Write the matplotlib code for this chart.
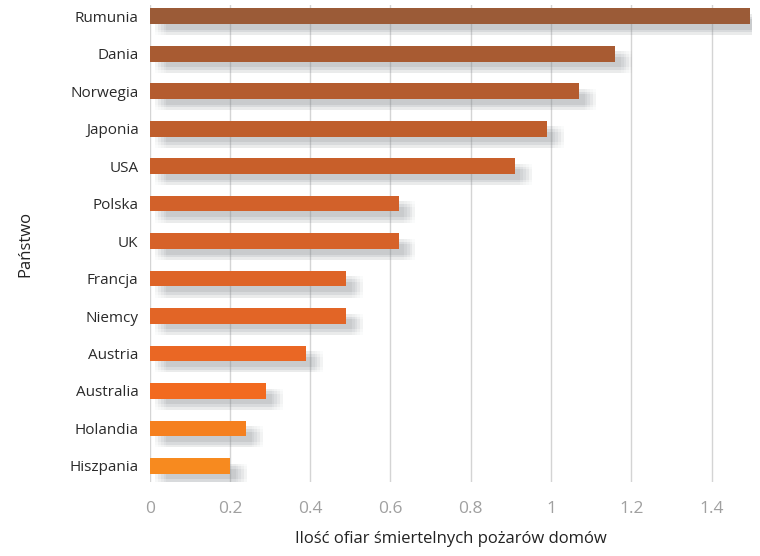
import matplotlib.pyplot as plt
import matplotlib.patheffects as pe

plt.ioff()

countries = ['Rumunia', 'Dania', 'Norwegia', 'Japonia', 'USA', 'Polska', 'UK',
             'Francja', 'Niemcy', 'Austria', 'Australia', 'Holandia',
             'Hiszpania']
deaths = [1.495, 1.16, 1.07, 0.99, 0.91, 0.62, 0.62,
          0.49, 0.49, 0.39, 0.29, 0.24, 0.20]
x_ticks = [0, 0.2, 0.4, 0.6, 0.8, 1, 1.2, 1.4]
x_tick_labels = ['0', '0.2', '0.4', '0.6', '0.8', '1', '1.2', '1.4']

bar_colors = ['#9b5b37', '#a85b32', '#b45c2f', '#bf5e2c', '#c85f2a',
              '#d2612a', '#d66229', '#de6427', '#e26526', '#ea6724',
              '#f26a1f', '#f5801f', '#f78a1f']


def main():
    plt.rcParams['font.family'] = ['Open Sans', 'DejaVu Sans']

    fig = plt.figure(figsize=(7.6, 5.56), dpi=100)
    ax = fig.add_axes([0.197, 0.133, 0.792, 0.858])

    n = len(countries)
    ypos = list(range(n - 1, -1, -1))

    # soft shadow from stacked offset copies
    offsets = []
    for dx in (4, 6, 8, 10, 12):
        for dy in (-4, -6, -8):
            offsets.append((dx, dy))
    shadow = [pe.SimplePatchShadow(offset=o, shadow_rgbFace='#8c9196',
                                   alpha=0.035) for o in offsets]
    bars = ax.barh(ypos, deaths, height=0.42, color=bar_colors, zorder=3)
    for b in bars:
        b.set_path_effects(shadow + [pe.Normal()])

    ax.set_xlim(0, 1.5)
    ax.set_ylim(-0.43, n - 1 + 0.3)
    ax.set_xticks(x_ticks)
    ax.set_xticklabels(x_tick_labels, color='#a0a0a0', fontsize=12.5)
    ax.set_yticks(ypos)
    ax.set_yticklabels(countries, color='#2a2a2a', fontsize=11)
    ax.tick_params(length=0, pad=8)
    ax.tick_params(axis='x', pad=14)

    ax.grid(axis='x', color='#d4d4d4', linewidth=1.0, zorder=0)
    ax.set_axisbelow(True)
    for s in ax.spines.values():
        s.set_visible(False)

    ax.set_xlabel('Ilość ofiar śmiertelnych pożarów domów', fontsize=12,
                  color='#222222', labelpad=10)
    ax.set_ylabel('Państwo', fontsize=12, color='#222222', labelpad=26)

    fig.savefig('out.png', dpi=100)
    plt.close(fig)


if __name__ == '__main__':
    main()
